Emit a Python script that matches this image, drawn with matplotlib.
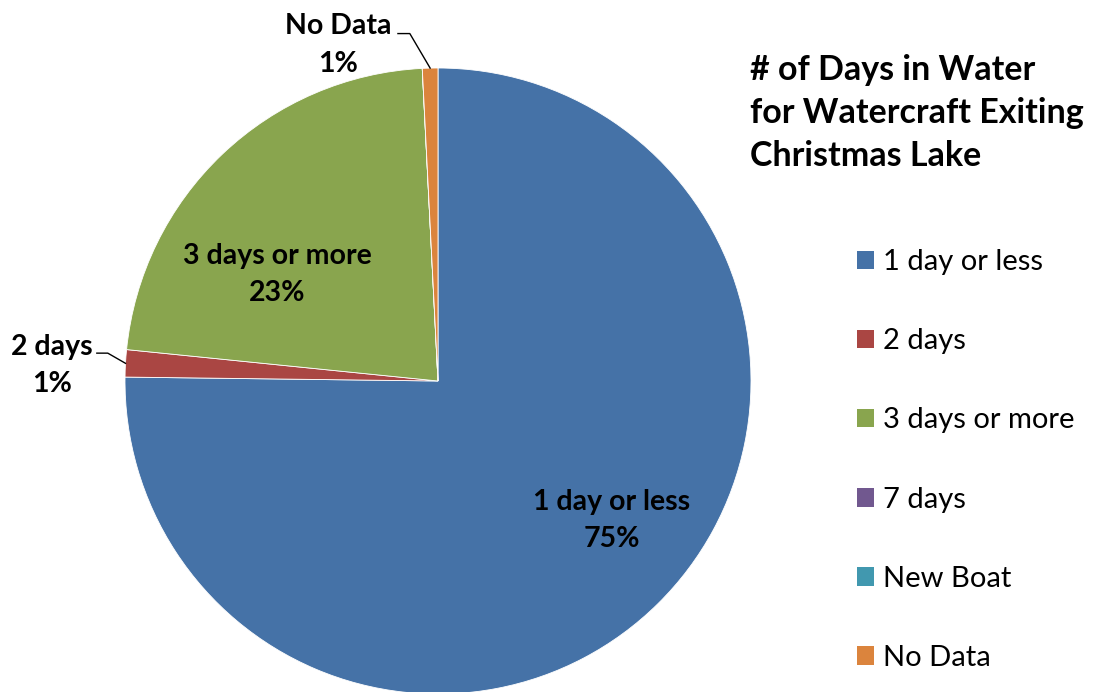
import numpy as np
import matplotlib.pyplot as plt
from matplotlib.patches import Patch

categories = ['1 day or less', '2 days', '3 days or more', '7 days', 'New Boat', 'No Data']
shares = [75.2, 1.4, 22.6, 0.0, 0.0, 0.8]
colors = ['#4572A7', '#AA4643', '#89A54E', '#71588F', '#4198AF', '#DB843D']
title = '# of Days in Water\nfor Watercraft Exiting\nChristmas Lake'

plt.rcParams['font.family'] = ['Lato', 'DejaVu Sans']

fig = plt.figure(figsize=(10.94, 6.92), dpi=100)
W, H = 1094, 692
cx, cy, r = 438, 381, 313
ax = fig.add_axes([(cx - r) / W, (H - cy - r) / H, 2 * r / W, 2 * r / H])

wedges, _ = ax.pie(shares, colors=colors, startangle=90, counterclock=False,
                   radius=1, wedgeprops=dict(edgecolor='white', linewidth=0.6))
ax.set_xlim(-1, 1)
ax.set_ylim(-1, 1)
ax.set_aspect('equal')
ax.axis('off')

lab_kw = dict(fontsize=20.5, fontweight='bold', ha='center', va='center',
              linespacing=1.55, color='black')

# inside labels
ax.text(0.556, -0.445, f'{categories[0]}\n{shares[0]:.0f}%', **lab_kw)
ax.text(-0.514, 0.34, f'{categories[2]}\n{shares[2]:.0f}%', **lab_kw)

# outside labels with leader lines
def leader(i, text_xy, elbow, text):
    w = wedges[i]
    mid = np.deg2rad((w.theta1 + w.theta2) / 2)
    px, py = np.cos(mid), np.sin(mid)
    ax.plot([elbow[0], elbow[1], px], [elbow[2], elbow[2], py], color='black',
            lw=1, clip_on=False)
    ax.text(text_xy[0], text_xy[1], text, clip_on=False, **lab_kw)

leader(1, (-1.233, 0.05), (-1.09, -1.055, 0.089), f'{categories[1]}\n{round(shares[1]):.0f}%')
leader(5, (-0.32, 1.073), (-0.128, -0.09, 1.11), f'{categories[5]}\n{round(shares[5]):.0f}%')

fig.text(750 / W, 1 - 54 / H, title, fontsize=24.5, fontweight='bold',
         ha='left', va='top', linespacing=1.43)

handles = [Patch(facecolor=c, edgecolor='none') for c in colors]
fig.legend(handles, categories, loc='center left', bbox_to_anchor=(842 / W, 1 - 460 / H),
           frameon=False, fontsize=21, handlelength=0.6, handleheight=0.6,
           handletextpad=0.3, labelspacing=1.82, borderpad=0)

fig.savefig('out.png', dpi=100)
